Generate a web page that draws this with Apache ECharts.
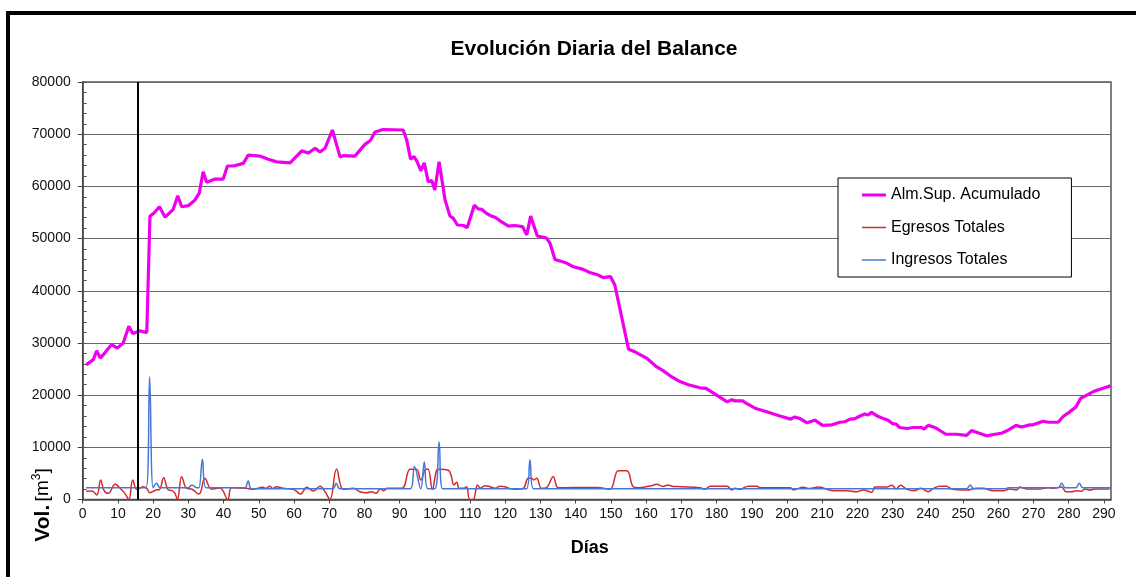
<!DOCTYPE html>
<html><head><meta charset="utf-8">
<script src="https://cdn.jsdelivr.net/npm/echarts@6/dist/echarts.min.js"></script>
<style>html,body{margin:0;padding:0;background:#fff}#c{width:1136px;height:577px}</style>
</head><body><div id="c"></div>
<script>
const titleText = 'Evolución Diaria del Balance';
const xName = 'Días';
const seriesNames = ['Alm.Sup. Acumulado', 'Egresos Totales', 'Ingresos Totales'];
const markerDay = 15.5;

const almSup = [[1,25800],[3,26800],[4,28500],[5,27100],[6.3,28100],[8.2,29700],[9.8,29000],[11.5,30000],[13.1,33200],[14.2,31800],[16.1,32300],[18.2,32000],[19.1,54300],[20.1,54800],[21.8,56100],[23.4,54100],[25.7,55600],[27,58200],[28.1,56100],[30,56300],[31.9,57400],[33.1,58700],[34.2,62800],[35.2,60800],[37.6,61400],[39.9,61400],[41.1,63900],[42.8,63900],[45.6,64400],[47,66000],[50.3,65800],[52.7,65200],[55.1,64700],[58.9,64500],[62.2,66800],[64.1,66400],[66,67300],[67.4,66600],[68.8,67300],[70.9,70800],[73.1,65600],[74,65900],[77.3,65800],[80.2,68100],[81.6,68700],[83,70400],[85.3,70900],[91,70800],[92,68900],[93.1,65200],[94.1,65700],[95,64700],[96,63000],[97,64500],[98.1,60900],[99.1,61100],[100,59300],[101.2,64700],[102.9,57400],[104.3,54300],[105.2,53900],[106.4,52600],[108.1,52500],[109.2,52100],[111.2,56400],[112.3,55700],[113.3,55600],[114.7,54800],[116.1,54300],[117.1,54100],[118.5,53400],[120.9,52400],[122.7,52500],[124.9,52300],[126.1,50700],[127.2,54300],[129.1,50500],[131.7,50100],[132.7,49100],[134.1,46000],[136,45600],[137.4,45300],[139.3,44600],[142.1,44100],[144,43500],[146.4,43000],[147.8,42500],[149.9,42700],[151.1,41100],[155,28800],[156.8,28300],[160.1,27100],[163,25400],[164.8,24700],[166.8,23700],[169.6,22600],[172,22000],[175.3,21400],[177,21300],[180,20000],[183,18700],[184.3,19100],[185.2,18900],[187.4,18900],[188.5,18400],[190.9,17500],[194.2,16800],[198,16000],[201,15400],[202.2,15800],[203.7,15500],[205.7,14700],[207.9,15200],[210.1,14200],[212.7,14300],[215,14800],[216.4,14900],[217.9,15400],[219.3,15500],[220.7,16000],[222.1,16400],[223,16200],[224,16700],[225.9,15900],[227.8,15400],[228.7,15200],[230,14500],[230.9,14500],[232,13800],[234.1,13600],[235.8,13800],[238.2,13800],[238.9,13500],[240.1,14200],[242,13800],[245.1,12500],[248.1,12500],[251,12300],[252.4,13200],[253.8,12900],[256.7,12200],[259,12500],[260.9,12700],[262.8,13300],[265,14200],[266.6,13900],[269,14300],[269.9,14300],[272.7,15000],[274.2,14800],[277,14800],[278.4,15900],[280.3,16800],[282,17700],[283.4,19400],[284.6,19800],[287.4,20800],[291.9,21800]];

const egresos = [[1,1600],[2.6,1630],[4,860],[5.1,3740],[6,1820],[7.3,1180],[9.2,2910],[11.1,1820],[12,1180],[13.1,0],[14.2,3740],[15.3,1950],[16.1,2140],[17.2,2460],[18.2,2140],[19.1,1300],[20.8,1820],[21.8,1900],[23,4180],[24.3,1820],[25.4,1700],[26.2,1180],[26.9,0],[28.1,4370],[29.5,2140],[30.9,2000],[33,1050],[34.7,4060],[36.6,2010],[39,2200],[41.2,0],[42.3,2260],[46.5,2140],[48.4,1950],[51.2,2330],[52,2100],[53.1,2560],[54,2100],[55,2460],[56.9,2140],[59.8,1950],[61.9,1050],[63.6,2330],[65.5,1630],[67.4,2560],[68.8,1500],[70.2,0],[72.1,5840],[74,1950],[76.9,2140],[78.7,1500],[80.6,1300],[82.1,1500],[83.3,1180],[84.5,2010],[85.5,1700],[86.4,2140],[90.6,2140],[93,5790],[94.8,5790],[96,3740],[97.5,5790],[98.1,5790],[99.3,1950],[100.5,5600],[101.3,5790],[103.8,5600],[104.6,4690],[105.4,2780],[106.2,3300],[106.9,2140],[108.1,2140],[109,2460],[109.9,0],[110.9,0],[112.1,2780],[113,2140],[114.2,2650],[115.6,2460],[117.1,2140],[118.5,2560],[119.9,2460],[121,2140],[122.7,1950],[125.1,2140],[126.5,4060],[127.5,4060],[128.1,3740],[128.9,4060],[130.3,2140],[131.7,2260],[133.6,4370],[135,2260],[137.4,2260],[141.2,2300],[146,2300],[149.7,1950],[152.1,5520],[154.5,5520],[156.3,2460],[157.7,2260],[161.5,2650],[163,2900],[164.8,2500],[166.2,2780],[167.7,2500],[170,2460],[175.3,2260],[176.7,1950],[178.2,2560],[183,2560],[184.3,1820],[185.2,2140],[186.7,1950],[189,2560],[191.4,2560],[192.3,2260],[198,2260],[201,2260],[201.8,1820],[204.6,2340],[206.4,2100],[209,2400],[213.1,1690],[216.9,1690],[219.8,1500],[221.7,1820],[224.1,1380],[225,2400],[228.3,2400],[229.8,2720],[231,2000],[232.2,2720],[234.1,1950],[236,1690],[238,2140],[240.1,1500],[241.5,2100],[243.4,2530],[245.3,2530],[246.7,2010],[251,1820],[253.8,2140],[255.7,2140],[258.5,1690],[261.4,1690],[263.3,2010],[265.2,1820],[266.1,2400],[268,2010],[271.8,2010],[274.2,2260],[275.6,2140],[278,2400],[279.2,1500],[280.8,1500],[282.2,1690],[283.6,1600],[284.6,2010],[286,1820],[287.4,2010],[291.6,2010]];

const ingresos = [[1,2260],[18,2260],[19,23500],[20,2260],[21,3100],[22,2260],[30,2260],[31,2780],[32.5,2260],[33,2260],[34,7700],[35,2260],[46,2260],[47,3540],[48,2070],[71,2070],[72,3100],[73,2070],[93,2070],[94.2,6300],[96,2070],[97,7200],[98,2070],[100,2070],[101.2,11000],[102.2,2070],[126,2070],[127,7600],[128,2070],[251,2070],[252,2780],[253,2070],[262,2070],[263,2260],[277,2260],[278,3100],[279,2260],[282,2260],[283,3100],[284,2260],[292,2260]];

const yTicks = {min: 0, max: 80000, interval: 10000, minor: 2000};
const xTicks = {min: 0, max: 292, interval: 10};

const FONT = 'Liberation Sans, Arial, sans-serif';
const chart = echarts.init(document.getElementById('c'), null, {renderer: 'canvas'});
chart.setOption({
  animation: false,
  backgroundColor: '#fff',
  title: {
    text: titleText, left: 589, top: 34, textAlign: 'center',
    textStyle: {fontFamily: FONT, fontSize: 21, fontWeight: 'bold', color: '#000'}
  },
  graphic: [
    {type: 'rect', z: -10, shape: {x: 8, y: 13, width: 1300, height: 800},
     style: {fill: 'none', stroke: '#000', lineWidth: 4}},
    {type: 'text', x: 43, y: 505, rotation: Math.PI / 2,
     style: {
       text: '{b|Vol.} {r|[m}{s|3}{r|]}',
       align: 'center', verticalAlign: 'middle',
       rich: {
         b: {fontFamily: FONT, fontSize: 21, fontWeight: 'bold', fill: '#000', lineHeight: 24},
         r: {fontFamily: FONT, fontSize: 19, fill: '#000', lineHeight: 24},
         s: {fontFamily: FONT, fontSize: 12, fill: '#000', verticalAlign: 'top', lineHeight: 14}
       }
     }}
  ],
  legend: {
    orient: 'vertical', left: 838, top: 178,
    padding: [9, 31, 9, 24],
    backgroundColor: '#fff', borderColor: '#000', borderWidth: 1,
    itemWidth: 24, itemHeight: 14, itemGap: 16.5,
    textStyle: {fontFamily: FONT, fontSize: 16, color: '#000'},
    data: [
      {name: seriesNames[0], icon: 'path://M0,0H24V3H0Z', itemStyle: {color: '#ee00ee'}},
      {name: seriesNames[1], icon: 'path://M0,0H24V1.5H0Z', itemStyle: {color: '#d42a2a'}},
      {name: seriesNames[2], icon: 'path://M0,0H24V1.5H0Z', itemStyle: {color: '#4877d8'}}
    ]
  },
  grid: {left: 82.7, right: 25, top: 82, bottom: 77.5, show: true, borderColor: '#555', borderWidth: 1.5, backgroundColor: 'transparent'},
  xAxis: {
    type: 'value', min: xTicks.min, max: xTicks.max, interval: xTicks.interval,
    name: xName, nameLocation: 'middle', nameGap: 40,
    nameTextStyle: {fontFamily: FONT, fontSize: 18, fontWeight: 'bold', color: '#000', padding: [0, 14, 0, 0]},
    axisLine: {lineStyle: {color: '#444', width: 1.5}},
    axisTick: {length: 4, lineStyle: {color: '#444'}},
    axisLabel: {fontFamily: FONT, fontSize: 14, color: '#111', margin: 8, showMaxLabel: false},
    splitLine: {show: false}
  },
  yAxis: [{
    type: 'value', min: yTicks.min, max: yTicks.max, interval: yTicks.interval,
    axisLine: {show: true, lineStyle: {color: '#444', width: 1.5}},
    axisTick: {show: true, length: 5, lineStyle: {color: '#444'}},
    axisLabel: {fontFamily: FONT, fontSize: 14, color: '#111', margin: 12, formatter: v => String(v)},
    splitLine: {show: true, lineStyle: {color: '#6a6a6a', width: 1.2}}
  }, {
    type: 'value', min: yTicks.min, max: yTicks.max, interval: yTicks.minor, position: 'left',
    axisLine: {show: false}, axisLabel: {show: false}, splitLine: {show: false},
    axisTick: {show: true, inside: true, length: 4, lineStyle: {color: '#555'}}
  }],
  series: [{
    name: seriesNames[0], type: 'line', data: almSup, symbol: 'none', smooth: false,
    lineStyle: {color: '#ee00ee', width: 3.2}, itemStyle: {color: '#ee00ee'}, z: 3,
    markLine: {silent: true, symbol: ['none', 'none'], label: {show: false},
      lineStyle: {color: '#000', width: 2, type: 'solid'}, data: [{xAxis: markerDay}]}
  }, {
    name: seriesNames[1], type: 'line', data: egresos, symbol: 'none', smooth: 0.4,
    lineStyle: {color: '#d42a2a', width: 1.5}, itemStyle: {color: '#d42a2a'}, z: 2
  }, {
    name: seriesNames[2], type: 'line', data: ingresos, symbol: 'none', smooth: 0.4,
    lineStyle: {color: '#4877d8', width: 1.5}, itemStyle: {color: '#4877d8'}, z: 2
  }]
});
</script></body></html>
